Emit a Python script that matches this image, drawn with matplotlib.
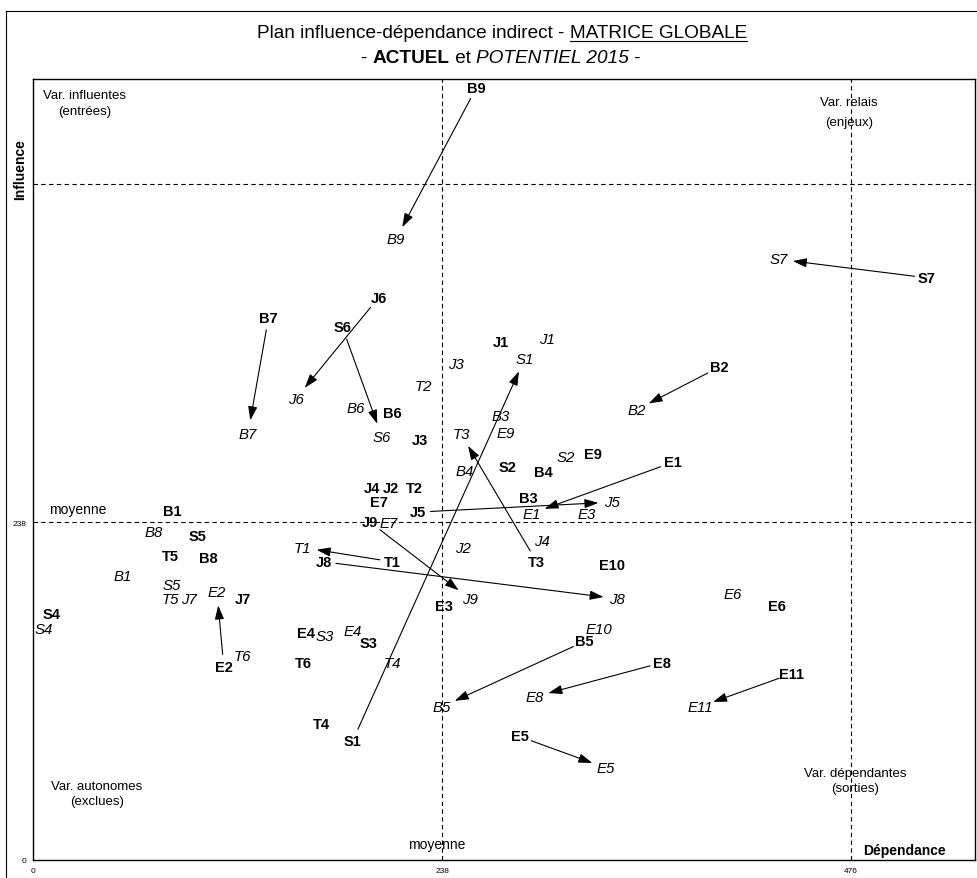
import matplotlib
matplotlib.use('Agg')
import matplotlib.pyplot as plt
from matplotlib.lines import Line2D

plt.rcParams['font.family'] = ['Liberation Sans', 'DejaVu Sans']

# ---- data: ACTUEL (bold) positions : dependance (x), influence (y)
act_names = ['B9', 'S7', 'J6', 'B7', 'S6', 'J1', 'B2', 'B6', 'J3', 'E9', 'S2', 'B4', 'E1',
             'J4', 'J2', 'T2', 'E7', 'B3', 'J5', 'B1', 'J9', 'S5', 'T5', 'B8', 'T1', 'J8',
             'T3', 'E10', 'J7', 'S4', 'E3', 'E6', 'E4', 'S3', 'B5', 'E2', 'T6', 'E8', 'E11',
             'T4', 'S1', 'E5']
act_dep = [258, 520, 201, 137, 180, 272, 399, 209, 225, 326, 276, 297, 372,
           197, 208, 222, 201, 288, 224, 81, 196, 96, 80, 102, 209, 169,
           293, 337, 122, 11, 239, 433, 159, 195, 321, 111, 157, 366, 441,
           168, 186, 283]
act_inf = [544, 410, 396, 382, 375, 365, 347, 315, 296, 286, 277, 273, 280,
           262, 262, 262, 252, 255, 245, 246, 238, 228, 214, 213, 210, 210,
           210, 208, 184, 173, 179, 179, 160, 153, 154, 136, 139, 139, 131,
           96, 84, 87]

# ---- data: POTENTIEL 2015 (italic) positions
pot_names = ['B9', 'S7', 'J1', 'S1', 'J3', 'T2', 'J6', 'B2', 'B6', 'B3', 'T3', 'E9', 'B7',
             'S6', 'S2', 'B4', 'E1', 'J5', 'E3', 'E7', 'B8', 'J2', 'T1', 'J4', 'B1', 'S5',
             'T5', 'J7', 'E2', 'J9', 'J8', 'E6', 'S4', 'E10', 'E4', 'S3', 'T6', 'T4', 'B5',
             'E8', 'E11', 'E5']
pot_dep = [211, 434, 299, 286, 246, 227, 153, 351, 188, 272, 249, 275, 125,
           203, 310, 251, 290, 337, 322, 207, 70, 250, 157, 296, 52, 81,
           80, 91, 107, 254, 340, 407, 6, 329, 186, 170, 122, 209, 238,
           292, 388, 333]
pot_inf = [437, 423, 367, 353, 349, 334, 325, 317, 318, 313, 300, 301, 300,
           298, 284, 274, 244, 252, 244, 237, 231, 220, 220, 225, 200, 194,
           184, 184, 189, 184, 184, 187, 163, 163, 161, 158, 144, 139, 108,
           115, 108, 65]

# variables whose shift is drawn with an arrow (actuel -> potentiel)
arrow_vars = ['B9', 'S7', 'J6', 'B7', 'S6', 'S1', 'T3', 'E1', 'J5', 'T1', 'J8', 'J9',
              'E2', 'B5', 'E8', 'E11', 'E5', 'B2']

moyenne = 238
limite = 476
x_ticks = [0, 238, 476]
y_ticks = [0, 238]

W, H = 978, 879
fig = plt.figure(figsize=(W / 100, H / 100), dpi=100)
ax = fig.add_axes([33 / W, 1 - 861 / H, (975 - 33) / W, (861 - 80) / H])
ax.set_xlim(0, 548)
ax.set_ylim(0, 550)
for s in ax.spines.values():
    s.set_linewidth(1.0)
ax.set_xticks(x_ticks)
ax.set_yticks(y_ticks)
ax.tick_params(length=0, labelsize=6, pad=5)

dash = dict(color='black', lw=0.8, ls=(0, (4, 3)))
ax.axvline(moyenne, **dash)
ax.axvline(limite, **dash)
ax.axhline(moyenne, **dash)
ax.axhline(limite, **dash)

act = {n: (x, y) for n, x, y in zip(act_names, act_dep, act_inf)}
pot = {n: (x, y) for n, x, y in zip(pot_names, pot_dep, pot_inf)}

for n, x, y in zip(act_names, act_dep, act_inf):
    ax.text(x, y, n, fontsize=10.5, fontweight='bold', ha='center', va='center')
for n, x, y in zip(pot_names, pot_dep, pot_inf):
    ax.text(x, y, n, fontsize=10.8, fontstyle='italic', ha='center', va='center')

for n in arrow_vars:
    ax.annotate('', xy=pot[n], xytext=act[n],
                arrowprops=dict(arrowstyle='-|>,head_length=0.6,head_width=0.2',
                                mutation_scale=14, color='black', lw=0.8,
                                shrinkA=9, shrinkB=10))

# quadrant captions
qfs = 9.5
ax.text(0.055, 0.969, 'Var. influentes\n(entrées)', transform=ax.transAxes,
        ha='center', va='center', fontsize=qfs, linespacing=1.4)
ax.text(0.866, 0.958, 'Var. relais\n(enjeux)', transform=ax.transAxes,
        ha='center', va='center', fontsize=qfs, linespacing=1.9)
ax.text(0.068, 0.085, 'Var. autonomes\n(exclues)', transform=ax.transAxes,
        ha='center', va='center', fontsize=qfs, linespacing=1.4)
ax.text(0.873, 0.102, 'Var. dépendantes\n(sorties)', transform=ax.transAxes,
        ha='center', va='center', fontsize=qfs, linespacing=1.4)
ax.text(26, 247, 'moyenne', ha='center', va='center', fontsize=10)
ax.text(235, 11, 'moyenne', ha='center', va='center', fontsize=10)
ax.text(0.925, 0.013, 'Dépendance', transform=ax.transAxes, ha='center',
        va='center', fontsize=10, fontweight='bold')
ax.text(-0.0138, 0.885, 'Influence', transform=ax.transAxes, ha='center',
        va='center', rotation=90, fontsize=10, fontweight='bold')

# outer frame
x0 = 6 / W
yt = 1 - 12 / H
fig.add_artist(Line2D([x0, x0], [0, yt], color='black', lw=0.8, transform=fig.transFigure))
fig.add_artist(Line2D([x0, 1], [yt, yt], color='black', lw=0.8, transform=fig.transFigure))

# title, composed of pieces
fig.canvas.draw()
renderer = fig.canvas.get_renderer()


def line_of_pieces(pieces, cx, cy, fs):
    texts = []
    for s, kw in pieces:
        t = fig.text(0, cy, s, fontsize=fs, ha='left', va='baseline', **kw)
        texts.append(t)
    widths = [t.get_window_extent(renderer).width for t in texts]
    total = sum(widths)
    x = cx * W - total / 2
    out = []
    for t, w in zip(texts, widths):
        t.set_x(x / W)
        out.append((x, w))
        x += w
    return out


tfs = 13.7
l1 = line_of_pieces([('Plan influence-dépendance indirect - ', {}),
                     ('MATRICE GLOBALE', {})], 502 / W, 1 - 38 / H, tfs)
ux, uw = l1[1]
uy = 1 - 42 / H
fig.add_artist(Line2D([ux / W, (ux + uw) / W], [uy, uy], color='black', lw=0.8,
                      transform=fig.transFigure))
line_of_pieces([('- ', {}), ('ACTUEL', {'fontweight': 'bold'}), (' et ', {}),
                ('POTENTIEL 2015', {'fontstyle': 'italic'}), (' -', {})],
               501 / W, 1 - 63 / H, tfs)

fig.savefig('out.png', dpi=100)
